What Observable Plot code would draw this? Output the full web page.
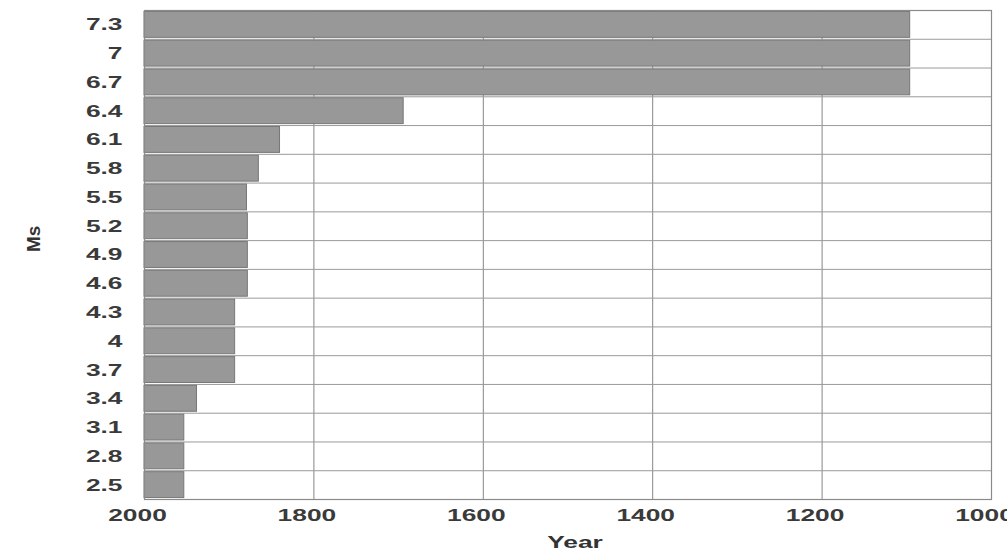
<!DOCTYPE html>
<html>
<head>
<meta charset="utf-8">
<script src="https://cdn.jsdelivr.net/npm/d3@7"></script>
<script src="https://cdn.jsdelivr.net/npm/@observablehq/plot@0.6"></script>
<style>
  html, body { margin: 0; padding: 0; background: #fff; }
  #chart svg { display: block; }
</style>
</head>
<body>
<div id="chart"></div>
<script>
// Magnitude classes (top to bottom) and the year each bar reaches back to
const magnitudes = ["7.3", "7", "6.7", "6.4", "6.1", "5.8", "5.5", "5.2", "4.9", "4.6", "4.3", "4", "3.7", "3.4", "3.1", "2.8", "2.5"];
const years = [1096, 1096, 1096, 1694, 1840, 1865, 1879, 1878, 1878, 1878, 1893, 1893, 1893, 1938, 1953, 1953, 1953];
const baseYear = 2000;
const xTicks = [2000, 1800, 1600, 1400, 1200, 1000];
const gridYears = [1800, 1600, 1400, 1200];

const data = magnitudes.map((m, i) => ({m, year: years[i]}));

const width = 1007, height = 559;
const marginTop = 10, marginBottom = 60, marginLeft = 144, marginRight = 16;
const innerH = height - marginTop - marginBottom;
const step = innerH / (magnitudes.length - 0.1 + 0.1);

const font = "Liberation Sans, Arial, sans-serif";

const chart = Plot.plot({
  width, height, marginTop, marginBottom, marginLeft, marginRight,
  style: {fontFamily: font, fontSize: "17px", color: "#333", background: "#fff"},
  x: {domain: [2000, 1000], ticks: xTicks},
  y: {domain: magnitudes, paddingInner: 0.1, paddingOuter: 0.05, round: false},
  marks: [
    Plot.ruleX(gridYears, {stroke: "#858585", strokeWidth: 1}),
    Plot.ruleY(magnitudes.slice(0, -1), {dy: step / 2, stroke: "#9a9a9a", strokeWidth: 1}),
    Plot.barX(data, {x1: () => baseYear, x2: "year", y: "m", fill: "#989898", stroke: "#777", strokeWidth: 1}),
    Plot.frame({stroke: "#8a8a8a", strokeWidth: 1.2}),
    Plot.axisX({ticks: xTicks, tickSize: 0, tickPadding: 9, dx: -7, tickFormat: d => String(d), label: null,
      fontWeight: "bold", fill: "#3a3a3a"}),
    Plot.axisY({tickSize: 0, tickPadding: 22, label: null, fontWeight: "bold", fill: "#3a3a3a"}),
    Plot.text(["Year"], {frameAnchor: "bottom", dy: 48, dx: 7, text: d => d, fontWeight: "bold", fontSize: 17, fill: "#333"}),
    Plot.text(["Ms"], {frameAnchor: "left", dx: -111, dy: -3, rotate: -90, text: d => d, fontWeight: "bold", fontSize: 19, fill: "#333"})
  ]
});

document.getElementById("chart").appendChild(chart);

// The reference's lettering is drawn wide; stretch the horizontal texts to match
const stretch = 1.55;
chart.querySelectorAll("text").forEach(t => {
  if (t.textContent === "Ms") return;
  const len = t.getComputedTextLength();
  if (len > 0) {
    t.setAttribute("textLength", (len * stretch).toFixed(1));
    t.setAttribute("lengthAdjust", "spacingAndGlyphs");
  }
});
</script>
</body>
</html>
